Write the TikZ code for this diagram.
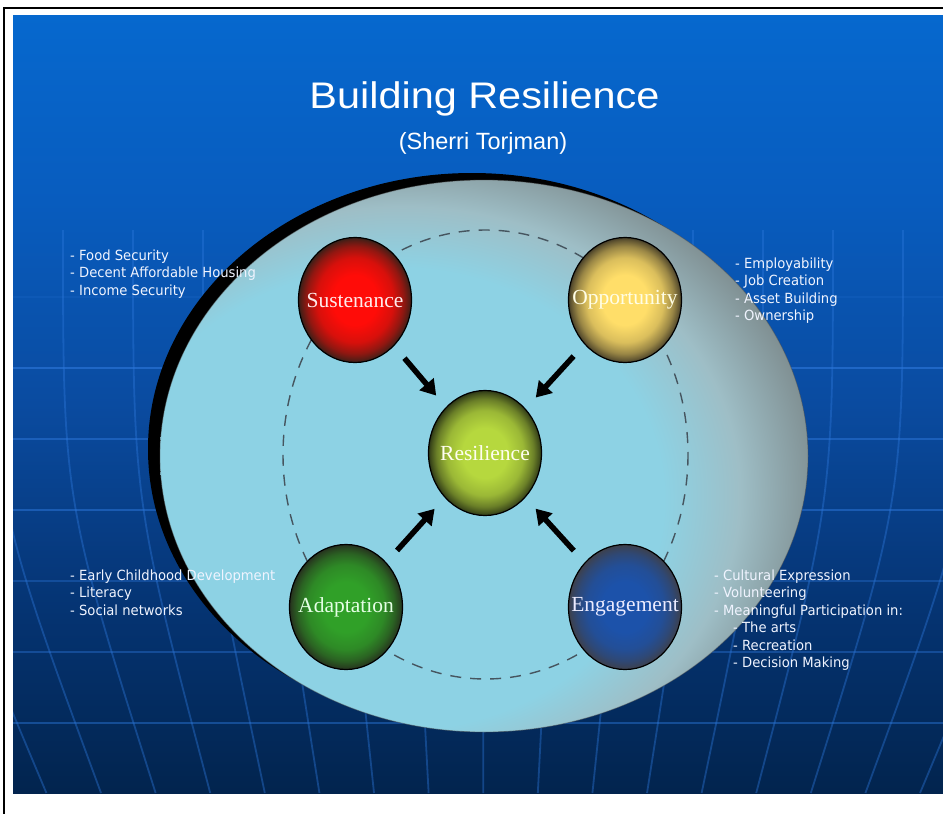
\documentclass[tikz,border=0pt]{standalone}
\usepackage{fontspec}
\setmainfont{Liberation Serif}
\newfontfamily\titlefont[FakeStretch=1.12]{Liberation Sans}
\newfontfamily\subfont{Liberation Sans}
\newfontfamily\listfont[FakeStretch=0.94]{DejaVu Sans}
\usetikzlibrary{shapes.geometric,arrows.meta}

\definecolor{bgA}{RGB}{2,36,78}
\definecolor{bgB}{RGB}{5,52,115}
\definecolor{bgC}{RGB}{10,75,160}
\definecolor{bgD}{RGB}{8,92,190}
\definecolor{bgE}{RGB}{6,104,206}
\definecolor{gridc}{RGB}{45,120,220}
\definecolor{ecyan}{RGB}{141,210,228}
\definecolor{emid}{RGB}{158,190,198}
\definecolor{egray}{RGB}{128,144,147}
\definecolor{egrayb}{RGB}{112,124,126}
\definecolor{dashc}{RGB}{70,85,95}
\definecolor{listc}{RGB}{240,244,255}

\definecolor{redC}{RGB}{255,12,8}
\definecolor{redE}{RGB}{55,32,24}
\definecolor{yelC}{RGB}{255,222,105}
\definecolor{yelE}{RGB}{70,62,40}
\definecolor{limC}{RGB}{182,216,62}
\definecolor{limE}{RGB}{45,55,22}
\definecolor{grnC}{RGB}{48,160,40}
\definecolor{grnE}{RGB}{38,48,30}
\definecolor{bluC}{RGB}{28,82,170}
\definecolor{bluE}{RGB}{62,64,74}

\pgfdeclareverticalshading{bgshade}{100bp}{color(0bp)=(bgA); color(25bp)=(bgA); color(37bp)=(bgB); color(50bp)=(bgC); color(63bp)=(bgD); color(75bp)=(bgE); color(100bp)=(bgE)}
\pgfdeclareradialshading{ellshade}{\pgfpoint{-11bp}{-6bp}}{color(0bp)=(ecyan); color(21bp)=(ecyan); color(26bp)=(emid); color(31bp)=(egray); color(36bp)=(egrayb); color(60bp)=(egrayb)}

\newcommand{\defball}[3]{\pgfdeclareradialshading{#1}{\pgfpoint{0bp}{0bp}}{color(0bp)=(#2); color(10bp)=(#2); color(17bp)=(#2!80!#3); color(21.5bp)=(#2!45!#3); color(24bp)=(#2!15!#3); color(25bp)=(#3); color(50bp)=(#3)}}
\defball{ballred}{redC}{redE}
\defball{ballyel}{yelC}{yelE}
\defball{balllim}{limC}{limE}
\defball{ballgrn}{grnC}{grnE}
\defball{ballblu}{bluC}{bluE}

\tikzset{
  gridline/.style={draw=gridc, line width=1.8pt, opacity=0.4},
  ball/.style={ellipse, minimum width=113pt, minimum height=125pt, inner sep=0pt,
    draw=black, line width=1.2pt, font=\fontsize{21.5}{24}\selectfont,
    execute at begin node={\hbox to 0pt\bgroup\hss},
    execute at end node={\hss\egroup}},
  bigarr/.style={line width=5.5pt, -{Triangle[width=18pt,length=15pt]},
    shorten <=16pt, shorten >=15pt},
  dashring/.style={draw=dashc, line width=1.4pt, dash pattern=on 11pt off 9pt},
  listtxt/.style={text=listc, font=\listfont\fontsize{14}{17.5}\selectfont,
    align=left, inner sep=0pt, anchor=north west},
}

\begin{document}
\begin{tikzpicture}[x=1pt,y=-1pt]
\useasboundingbox (0,0) rectangle (943,814);
\fill[white] (0,0) rectangle (943,814);
\draw[black, line width=2.5pt] (4,814) -- (4,8) -- (943,8);
\draw[black!25, line width=0.8pt] (13,793.5) -- (943,793.5);
\shade[shading=bgshade] (13,15) rectangle (943,793);
\begin{scope}
  \clip (13,15) rectangle (943,793);
  \foreach \k in {-3,...,14} {
    \draw[gridline] ({63+70*\k},230) .. controls ({63+70*\k},500) .. ({484+(63+70*\k-484)*0.78},793);
  }
  \foreach \yy/\op in {297/0.15,368/0.6,439/0.5,510/0.5,581/0.35,652/0.4,723/0.45}
    \draw[gridline, opacity=\op] (13,\yy) -- (943,\yy);
\end{scope}

% big ellipse with shadow crescent
\fill[black] (472,449) ellipse [x radius=324, y radius=276];
\shade[shading=ellshade] (484,456) ellipse [x radius=324, y radius=276];
\draw[black!70, opacity=0.45, line width=0.8pt] (484,456) ellipse [x radius=324, y radius=276];

% dashed ring
\draw[dashring] (485.5,454.5) ellipse [x radius=202.5, y radius=224.5];

% balls
\node[ball, shading=ballred, text=red!8!white] (sus) at (355,300) {Sustenance};
\node[ball, shading=ballyel, text=yellow!10!white] (opp) at (625,300) {Opportunity};
\node[ball, shading=balllim, text=white!94!yellow] (res) at (485,453) {Resilience};
\node[ball, shading=ballgrn, text=white!90!green] (ada) at (346,607) {Adaptation};
\node[ball, shading=ballblu, text=white!92!blue] (eng) at (625,607) {Engagement};

% arrows
\draw[bigarr] (sus) -- (res);
\draw[bigarr] (opp) -- (res);
\draw[bigarr] (ada) -- (res);
\draw[bigarr] (eng) -- (res);

% title
\node[text=white, font=\titlefont\fontsize{37}{40}\selectfont, inner sep=0pt, anchor=base] (title) at (484.5,108) {Building Resilience};
\node[text=white, font=\subfont\fontsize{23.5}{26}\selectfont, inner sep=0pt, anchor=base] (subtitle) at (483,149) {(Sherri Torjman)};

% lists
\node[listtxt] (lsus) at (70,249.5) {- Food Security\\- Decent Affordable Housing\\- Income Security};
\node[listtxt] (lopp) at (735,257.5) {- Employability\\- Job Creation\\- Asset Building\\- Ownership};
\node[listtxt] (lada) at (70,569.5) {- Early Childhood Development\\- Literacy\\- Social networks};
\node[listtxt] (leng) at (714,569.5) {- Cultural Expression\\- Volunteering\\- Meaningful Participation in:\\\hspace*{19pt}- The arts\\\hspace*{19pt}- Recreation\\\hspace*{19pt}- Decision Making};
\end{tikzpicture}
\end{document}
